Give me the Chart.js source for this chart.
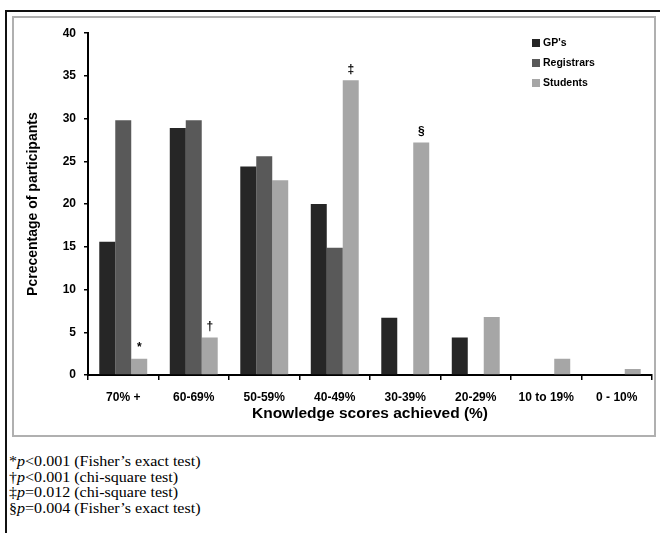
<!DOCTYPE html>
<html>
<head>
<meta charset="utf-8">
<script src="https://cdn.jsdelivr.net/npm/chart.js@4.4.1/dist/chart.umd.min.js"></script>
<style>
  html, body { margin: 0; padding: 0; background: #fff; }
  body { width: 660px; height: 533px; position: relative; overflow: hidden; }
  .frame { position: absolute; left: 5px; top: 10px; width: 700px; height: 600px;
           border-top: 2px solid #111; border-left: 2px solid #111; }
  .box { position: absolute; left: 12px; top: 16px; width: 644px; height: 421px;
         box-sizing: border-box; border: 2px solid #b0b0b0; background: #fff; }
  .box canvas { display: block; }
  .notes { position: absolute; left: 9px; top: 454px; font-family: "Liberation Serif", "Times New Roman", serif;
           font-size: 15px; line-height: 15.5px; color: #000;
           transform: scaleX(1.07); transform-origin: left top; }
</style>
</head>
<body>
<div class="frame"></div>
<div class="box"><canvas id="knowledgeChart" width="640" height="417"></canvas></div>
<div class="notes">
  <div>*<i>p</i>&lt;0.001 (Fisher’s exact test)</div>
  <div>†<i>p</i>&lt;0.001 (chi-square test)</div>
  <div>‡<i>p</i>=0.012 (chi-square test)</div>
  <div>§<i>p</i>=0.004 (Fisher’s exact test)</div>
</div>
<script>
const categories = ["70% +", "60-69%", "50-59%", "40-49%", "30-39%", "20-29%", "10 to 19%", "0 - 10%"];
const gpValues = [15.6, 28.9, 24.4, 20.0, 6.7, 4.4, null, null];
const registrarValues = [29.8, 29.8, 25.6, 14.9, null, null, null, null];
const studentValues = [1.9, 4.4, 22.8, 34.5, 27.2, 6.8, 1.9, 0.7];
const studentMarks = ["*", "†", "", "‡", "§", "", "", ""];
const yTicks = [0, 5, 10, 15, 20, 25, 30, 35, 40];

const tickFont = { family: "Liberation Sans, Arial, sans-serif", size: 12, weight: "bold" };

// significance symbols over the students' bars
const marksPlugin = {
    id: "marks",
    afterDatasetsDraw(chart) {
        const meta = chart.getDatasetMeta(2);
        const c = chart.ctx;
        c.save();
        c.fillStyle = "#000";
        c.font = "bold 12px Liberation Sans, Arial, sans-serif";
        c.textAlign = "center";
        c.textBaseline = "bottom";
        meta.data.forEach((bar, i) => {
            if (studentMarks[i]) c.fillText(studentMarks[i], bar.x, bar.y - 5);
        });
        c.restore();
    }
};

// stacked legend inside the plot, top right
const legendPlugin = {
    id: "boxLegend",
    afterDraw(chart) {
        const c = chart.ctx;
        c.save();
        c.font = "bold 10.5px Liberation Sans, Arial, sans-serif";
        c.textBaseline = "middle";
        chart.data.datasets.forEach((ds, i) => {
            const y = 25 + i * 20;
            c.fillStyle = ds.backgroundColor;
            c.fillRect(518, y - 4, 8, 8);
            c.fillStyle = "#000";
            c.fillText(ds.label, 529, y);
        });
        c.restore();
    }
};

new Chart(document.getElementById("knowledgeChart"), {
    type: "bar",
    data: {
        labels: categories,
        datasets: [
            { label: "GP's", data: gpValues, backgroundColor: "#262626" },
            { label: "Registrars", data: registrarValues, backgroundColor: "#595959" },
            { label: "Students", data: studentValues, backgroundColor: "#a6a6a6" }
        ]
    },
    options: {
        responsive: false,
        animation: false,
        categoryPercentage: 0.68,
        barPercentage: 1,
        layout: { padding: { top: 14, right: 2, left: 0, bottom: 0 } },
        scales: {
            x: {
                grid: { drawOnChartArea: false, drawTicks: true, tickLength: 5, color: "#000", lineWidth: 1.5 },
                border: { color: "#000", width: 2 },
                ticks: { color: "#000", font: tickFont, padding: 10, maxRotation: 0, autoSkip: false },
                title: {
                    display: true,
                    text: "Knowledge scores achieved (%)",
                    color: "#000",
                    font: { family: "Liberation Sans, Arial, sans-serif", size: 15.5, weight: "bold" },
                    padding: { top: 4, bottom: 12 }
                },
                afterFit: scale => { scale.height = 60; }
            },
            y: {
                min: 0,
                max: 40,
                afterBuildTicks: scale => { scale.ticks = yTicks.map(v => ({ value: v })); },
                grid: { drawOnChartArea: false, drawTicks: true, tickLength: 4, color: "#000", lineWidth: 1.5 },
                border: { color: "#000", width: 2 },
                ticks: { color: "#000", font: tickFont, padding: 8 },
                title: {
                    display: true,
                    text: "Pcrecentage of participants",
                    color: "#000",
                    font: { family: "Liberation Sans, Arial, sans-serif", size: 14, weight: "bold" },
                    padding: { top: 11, bottom: 0 }
                },
                afterFit: scale => { scale.width = 74; }
            }
        },
        plugins: {
            legend: { display: false },
            tooltip: { enabled: false }
        }
    },
    plugins: [marksPlugin, legendPlugin]
});
</script>
</body>
</html>
